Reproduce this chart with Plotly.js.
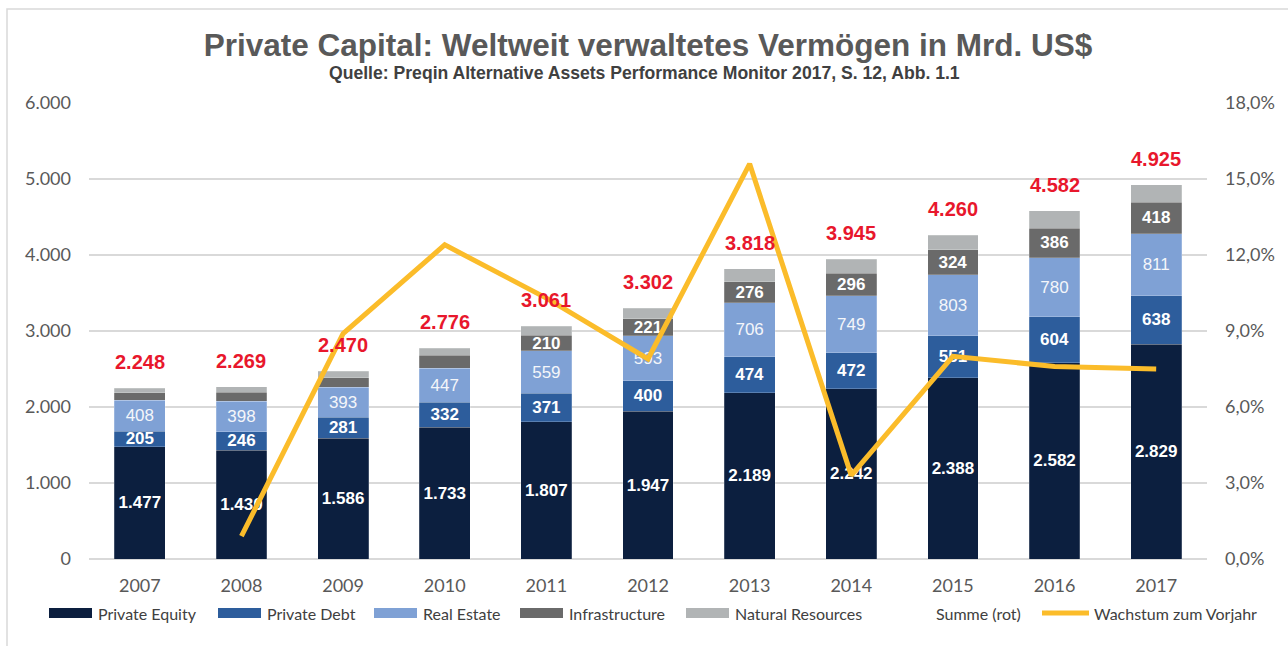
<!DOCTYPE html>
<html>
<head>
<meta charset="utf-8">
<script src="https://cdn.plot.ly/plotly-3.0.1.min.js"></script>
<style>
  html, body { margin: 0; padding: 0; background: #ffffff; }
  #chart { width: 1288px; height: 646px; }
</style>
</head>
<body>
<div id="chart"></div>
<script>
// ---- Data ----
const years = ['2007', '2008', '2009', '2010', '2011', '2012', '2013', '2014', '2015', '2016', '2017'];
const privateEquity = [1477, 1430, 1586, 1733, 1807, 1947, 2189, 2242, 2388, 2582, 2829];
const privateDebt = [205, 246, 281, 332, 371, 400, 474, 472, 551, 604, 638];
const realEstate = [408, 398, 393, 447, 559, 593, 706, 749, 803, 780, 811];
const infrastructure = [100, 120, 122, 170, 210, 221, 276, 296, 324, 386, 418];
const naturalResources = [58, 75, 88, 94, 114, 141, 173, 186, 194, 230, 229];
const totals = [2248, 2269, 2470, 2776, 3061, 3302, 3818, 3945, 4260, 4582, 4925];
const growth = [null, 0.9, 8.9, 12.4, 10.3, 7.9, 15.6, 3.3, 8.0, 7.6, 7.5];

const seriesNames = ['Private Equity', 'Private Debt', 'Real Estate', 'Infrastructure', 'Natural Resources', 'Summe (rot)', 'Wachstum zum Vorjahr'];
const seriesColors = ['#0c1f3f', '#2d5d9c', '#7fa1d5', '#6a6a6a', '#b1b4b5', 'rgba(0,0,0,0)', '#fbbc2a'];

// ---- Layout geometry ----
const W = 1288, H = 646;
const L = 89, R = 1207, T = 103, B = 559;
const px2x = px => (px - L) / (R - L);
const px2y = py => (B - py) / (B - T);

const labelFontBold = { family: 'Liberation Sans, Arial, sans-serif', size: 17, color: '#ffffff', weight: 'bold' };
const labelFontLight = { family: 'Liberation Sans, Arial, sans-serif', size: 17, color: '#f4f6fa', weight: 'normal' };

function barTrace(name, values, color, font, showRule) {
  return {
    type: 'bar',
    name: name,
    x: years,
    y: values,
    marker: { color: color, line: { color: 'rgba(255,255,255,0.35)', width: 0.6 } },
    texttemplate: values.map(v => showRule(v) ? '%{y:,.0f}' : ''),
    textposition: 'inside',
    insidetextanchor: 'middle',
    textangle: 0,
    textfont: font,
    hoverinfo: 'x+y+name',
    showlegend: false,
    yaxis: 'y'
  };
}

const traces = [
  barTrace(seriesNames[0], privateEquity, seriesColors[0], labelFontBold, v => true),
  barTrace(seriesNames[1], privateDebt, seriesColors[1], labelFontBold, v => true),
  barTrace(seriesNames[2], realEstate, seriesColors[2], labelFontLight, v => true),
  barTrace(seriesNames[3], infrastructure, seriesColors[3], labelFontBold, v => v >= 200),
  barTrace(seriesNames[4], naturalResources, seriesColors[4], labelFontBold, v => false),
  {
    type: 'scatter',
    mode: 'lines',
    name: seriesNames[6],
    x: years,
    y: growth,
    yaxis: 'y2',
    line: { color: seriesColors[6], width: 5, shape: 'linear' },
    connectgaps: false,
    showlegend: false,
    hovertemplate: '%{y:.1f}%<extra></extra>'
  }
];

// Red totals above the bars (x given as category index)
const annotations = totals.map((t, i) => ({
  x: i, y: t, xref: 'x', yref: 'y',
  text: t.toLocaleString('de-DE'),
  showarrow: false, yanchor: 'middle', xanchor: 'center', yshift: 26,
  font: { family: 'Liberation Sans, Arial, sans-serif', size: 20, color: '#e8172c', weight: 'bold' }
}));

// Subtitle
annotations.push({
  xref: 'paper', yref: 'paper', x: px2x(644), y: px2y(73),
  xanchor: 'center', yanchor: 'middle', showarrow: false,
  text: 'Quelle: Preqin Alternative Assets Performance Monitor 2017, S. 12, Abb. 1.1',
  font: { family: 'Liberation Sans, Arial, sans-serif', size: 17.6, color: '#404040', weight: 'bold' }
});

// Custom legend (wide swatches like the original)
const legendY = 613;
const swatchX = [49, 218, 374, 520, 686];
const shapes = [];
swatchX.forEach((sx, i) => {
  shapes.push({
    type: 'rect', xref: 'paper', yref: 'paper',
    x0: px2x(sx), x1: px2x(sx + 43), y0: px2y(legendY + 5), y1: px2y(legendY - 5),
    fillcolor: seriesColors[i], line: { width: 0 }
  });
  annotations.push({
    xref: 'paper', yref: 'paper', x: px2x(sx + 47), y: px2y(legendY),
    xanchor: 'left', yanchor: 'middle', showarrow: false, text: seriesNames[i],
    font: { family: 'Lato, Carlito, sans-serif', size: 16, color: '#404040' }
  });
});
annotations.push({
  xref: 'paper', yref: 'paper', x: px2x(934), y: px2y(legendY),
  xanchor: 'left', yanchor: 'middle', showarrow: false, text: seriesNames[5],
  font: { family: 'Lato, Carlito, sans-serif', size: 16, color: '#404040' }
});
shapes.push({
  type: 'line', xref: 'paper', yref: 'paper',
  x0: px2x(1042), x1: px2x(1089), y0: px2y(legendY), y1: px2y(legendY),
  line: { color: seriesColors[6], width: 5 }
});
annotations.push({
  xref: 'paper', yref: 'paper', x: px2x(1092), y: px2y(legendY),
  xanchor: 'left', yanchor: 'middle', showarrow: false, text: seriesNames[6],
  font: { family: 'Lato, Carlito, sans-serif', size: 16, color: '#404040' }
});

// Outer frame
shapes.push({
  type: 'rect', xref: 'paper', yref: 'paper', layer: 'below',
  x0: px2x(7), x1: px2x(W + 20), y0: px2y(H + 20), y1: px2y(9),
  line: { color: '#d9d9d9', width: 1.5 }, fillcolor: 'rgba(0,0,0,0)'
});

const tickFont = { family: 'Lato, Carlito, sans-serif', size: 18, color: '#595959' };

const layout = {
  width: W, height: H,
  margin: { l: L, r: W - R, t: T, b: H - B, pad: 0 },
  paper_bgcolor: '#ffffff',
  plot_bgcolor: '#ffffff',
  separators: ',.',
  barmode: 'stack',
  bargap: 0.5,
  showlegend: false,
  uniformtext: { minsize: 17, mode: 'show' },
  title: {
    text: 'Private Capital: Weltweit verwaltetes Vermögen in Mrd. US$',
    font: { family: 'Liberation Sans, Arial, sans-serif', size: 31.5, color: '#595959', weight: 'bold' },
    x: 0.5, xref: 'paper', xanchor: 'center',
    y: 1 - 45 / H, yref: 'container', yanchor: 'middle'
  },
  xaxis: {
    type: 'category',
    range: [-0.5, years.length - 0.5],
    tickfont: tickFont,
    showgrid: false,
    showline: false,
    ticks: '',
    ticklabelstandoff: 14,
    fixedrange: true
  },
  yaxis: {
    range: [0, 6000],
    dtick: 1000,
    tickformat: ',.0f',
    tickfont: tickFont,
    gridcolor: '#d9d9d9',
    gridwidth: 1.5,
    zeroline: true,
    zerolinecolor: '#d9d9d9',
    zerolinewidth: 1.5,
    showline: false,
    ticks: '',
    ticklabelstandoff: 17,
    fixedrange: true
  },
  yaxis2: {
    overlaying: 'y',
    side: 'right',
    range: [0, 18],
    dtick: 3,
    tickformat: '.1f',
    ticksuffix: '%',
    tickfont: tickFont,
    showgrid: false,
    zeroline: false,
    showline: false,
    ticks: '',
    ticklabelstandoff: 17,
    fixedrange: true
  },
  annotations: annotations,
  shapes: shapes
};

Plotly.newPlot('chart', traces, layout, { displayModeBar: false, staticPlot: false });
</script>
</body>
</html>
